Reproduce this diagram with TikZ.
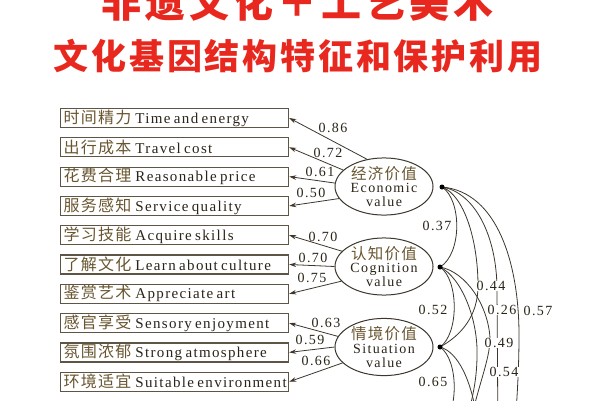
\documentclass[tikz,border=0pt]{standalone}
\usepackage{fontspec}
\setmainfont{Liberation Serif}
\newfontfamily\cjkt{Noto Sans CJK SC}
\newfontfamily\cjkbox{Noto Sans CJK SC}[LetterSpace=8]
\newfontfamily\enbox{Liberation Serif}[LetterSpace=9]
\newfontfamily\ennum{Liberation Serif}[LetterSpace=10]
\usetikzlibrary{shapes.geometric,arrows.meta}
\definecolor{titlered}{RGB}{232,40,30}
\definecolor{boxc}{RGB}{95,85,70}
\definecolor{linec}{RGB}{60,54,44}
\definecolor{txtc}{RGB}{42,36,24}
\definecolor{cnc}{RGB}{105,86,48}
\newcommand\bx[2]{{\fontsize{16}{16}\selectfont\cjkbox\color{cnc}#1}\hspace{4pt}{\fontsize{15}{16}\selectfont\enbox #2}}
\newcommand\lt[3]{{\fontsize{15.5}{14}\selectfont\cjkbox\color{cnc}#1}\\{\ennum #2}\\{\ennum #3}}
\tikzset{
  box/.style={draw=boxc, line width=1.2pt, rectangle, minimum height=19pt, text width=222pt, inner xsep=3pt, inner ysep=0pt, align=left, anchor=west, text=txtc},
  lat/.style={draw=linec, line width=1pt, ellipse, minimum width=98pt, minimum height=54pt, inner sep=0pt, align=center, text=txtc, font=\fontsize{14}{13.6}\selectfont},
  load/.style={draw=linec, line width=0.8pt, -{Stealth[length=7pt,width=4.5pt]}},
  num/.style={font=\fontsize{14}{14}\selectfont\ennum, text=txtc, inner sep=0.5pt},
  numw/.style={num, fill=white},
  dotn/.style={circle, fill=black, inner sep=0pt, minimum size=5pt},
  cor/.style={draw=linec, line width=0.8pt},
  ttl/.style={text=titlered, inner sep=0pt}
}
\begin{document}
\begin{tikzpicture}[x=1pt,y=-1pt]
\useasboundingbox (0,0) rectangle (600,400);
\clip (0,0) rectangle (600,400);
% titles
\node[ttl, font=\fontsize{40}{40}\selectfont\cjkt\bfseries\addfontfeature{LetterSpace=10}] (t1) at (297,2) {非遗文化＋工艺美术};
\node[ttl, font=\fontsize{35}{35}\selectfont\cjkt\bfseries\addfontfeature{LetterSpace=8}] (t2) at (298,56) {文化基因结构特征和保护利用};
% boxes
\node[box] (b1) at (60,118.0) {\bx{时间精力}{Time and energy}};
\node[box] (b2) at (60,147.3) {\bx{出行成本}{Travel cost}};
\node[box] (b3) at (60,176.6) {\bx{花费合理}{Reasonable price}};
\node[box] (b4) at (60,205.9) {\bx{服务感知}{Service quality}};
\node[box] (b5) at (60,235.2) {\bx{学习技能}{Acquire skills}};
\node[box] (b6) at (60,264.5) {\bx{了解文化}{Learn about culture}};
\node[box] (b7) at (60,293.8) {\bx{鉴赏艺术}{Appreciate art}};
\node[box] (b8) at (60,323.1) {\bx{感官享受}{Sensory enjoyment}};
\node[box] (b9) at (60,352.4) {\bx{氛围浓郁}{Strong atmosphere}};
\node[box] (b10) at (60,381.7) {\bx{环境适宜}{Suitable environment}};
% latent variables
\node[lat] (E) at (384,186.5) {\lt{经济价值}{Economic}{value}};
\node[lat] (C) at (384,266.5) {\lt{认知价值}{Cognition}{value}};
\node[lat] (S) at (384,347) {\lt{情境价值}{Situation}{value}};
% loadings
\draw[load] (E.122) -- (b1.east);
\draw[load] (E.158) -- (b2.east);
\draw[load] (E.176) -- (b3.east);
\draw[load] (E.195) -- (b4.east);
\draw[load] (C.160) -- (b5.east);
\draw[load] (C.180) -- (b6.east);
\draw[load] (C.199) -- (b7.east);
\draw[load] (S.167) -- (b8.east);
\draw[load] (S.180) -- (b9.east);
\draw[load] (S.201) -- (b10.east);
\node[num] (l1) at (333,128) {0.86};
\node[num] (l2) at (328,153) {0.72};
\node[num] (l3) at (320,172) {0.61};
\node[num] (l4) at (311,193) {0.50};
\node[num] (l5) at (323,237) {0.70};
\node[num] (l6) at (313,258) {0.70};
\node[num] (l7) at (312,278) {0.75};
\node[num] (l8) at (326,323) {0.63};
\node[num] (l9) at (310,340) {0.59};
\node[num] (l10) at (316,361) {0.66};
% correlation points
\coordinate (ed) at (442,187);
\coordinate (cd) at (440,267);
\coordinate (sd) at (440,347);
\coordinate (f4) at (440,428);
\coordinate (a44) at (478,286);
\coordinate (v1) at (497,290);
\coordinate (vb) at (498,440);
\coordinate (o1) at (519,335);
\coordinate (ob) at (514,440);
\coordinate (a49) at (490,338);
\coordinate (c5b) at (470,425);
\coordinate (c4m) at (477,355);
\coordinate (c4b) at (466,425);
\coordinate (s5b) at (478,425);
% correlations
\draw[cor] (ed) .. controls (462,200) and (462,254) .. (cd);
\draw[cor] (cd) .. controls (459,280) and (459,334) .. (sd);
\draw[cor] (sd) .. controls (459,360) and (459,414) .. (f4);
\draw[cor] (ed) .. controls (464,195) and (478,240) .. (a44) .. controls (478,315) and (462,335) .. (sd);
\draw[cor] (ed) .. controls (474,192) and (497,235) .. (v1) -- (vb);
\draw[cor] (ed) .. controls (498,192) and (519,265) .. (o1) .. controls (519,370) and (517,400) .. (ob);
\draw[cor] (cd) .. controls (466,272) and (488,305) .. (a49) .. controls (490,360) and (478,385) .. (c5b);
\draw[cor] (cd) .. controls (462,278) and (478,320) .. (c4m) .. controls (477,385) and (470,405) .. (c4b);
\draw[cor] (sd) .. controls (458,352) and (472,380) .. (s5b);
\node[dotn] (edn) at (ed) {};
\node[dotn] (cdn) at (cd) {};
\node[dotn] (sdn) at (sd) {};
% correlation labels
\node[num] (r1) at (437,226) {0.37};
\node[num] (r2) at (433,310) {0.52};
\node[num] (r3) at (433,382) {0.65};
\node[numw] (r4) at (491,286) {0.44};
\node[numw] (r5) at (502,310) {0.26};
\node[num] (r6) at (538,311) {0.57};
\node[numw] (r7) at (499,343) {0.49};
\node[numw] (r8) at (504,372) {0.54};
\end{tikzpicture}
\end{document}
